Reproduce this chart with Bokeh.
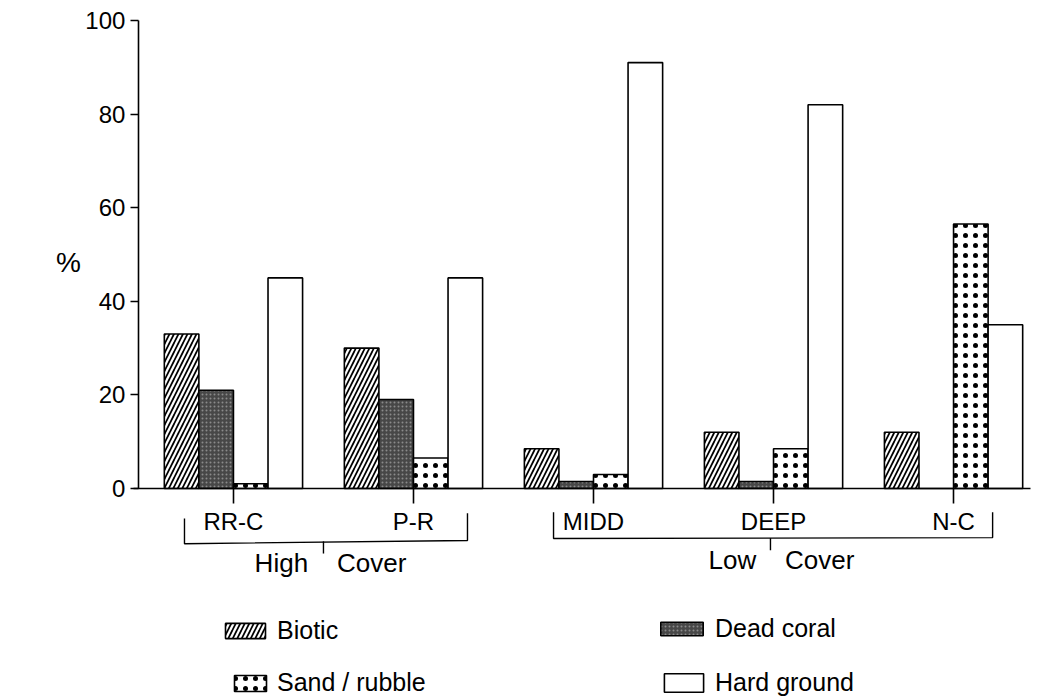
from bokeh.plotting import figure
from bokeh.models import Range1d, FixedTicker, Legend, LegendItem
from bokeh.embed import file_html
from bokeh.resources import INLINE
from bokeh.core.properties import value

# ---- data ----
sites = ["RR-C", "P-R", "MIDD", "DEEP", "N-C"]
biotic = [33, 30, 8.5, 12, 12]
dead_coral = [21, 19, 1.5, 1.5, 0]
sand_rubble = [1, 6.5, 3, 8.5, 56.5]
hard_ground = [45, 45, 91, 82, 35]
y_ticks = [0, 20, 40, 60, 80, 100]
groups = ["High\u00a0\u00a0\u00a0\u00a0Cover", "Low\u00a0\u00a0\u00a0\u00a0Cover"]
series_names = ["Biotic", "Dead coral", "Sand / rubble", "Hard ground"]

FONT = "Liberation Sans"

p = figure(width=1040, height=699, output_backend="svg", toolbar_location=None,
           x_range=Range1d(-1.294, 4.483), y_range=Range1d(-45.09, 104.27),
           min_border_left=0, min_border_right=0, min_border_top=0, min_border_bottom=0)
p.outline_line_color = None
p.grid.visible = False
p.background_fill_color = "white"
p.border_fill_color = "white"

idx = list(range(len(sites)))
w = 0.192
offs = [-1.5 * w, -0.5 * w, 0.5 * w, 1.5 * w]

r_bio = p.vbar(x=[i + offs[0] for i in idx], top=biotic, width=w, bottom=0,
               fill_color="white", line_color="black", line_width=1.6,
               hatch_pattern="/", hatch_color="black", hatch_scale=9, hatch_weight=1.7)
r_dead = p.vbar(x=[i + offs[1] for i in idx], top=dead_coral, width=w, bottom=0,
                fill_color="#474747", line_color="black", line_width=1.6,
                hatch_pattern=".", hatch_color="#8a8a8a", hatch_scale=4, hatch_weight=0.8)
r_sand = p.vbar(x=[i + offs[2] for i in idx], top=sand_rubble, width=w, bottom=0,
                fill_color="white", line_color="black", line_width=1.6,
                hatch_pattern=".", hatch_color="black", hatch_scale=10, hatch_weight=1)
r_hard = p.vbar(x=[i + offs[3] for i in idx], top=hard_ground, width=w, bottom=0,
                fill_color="white", line_color="black", line_width=1.6)

# y axis (placed at the left edge of the bars area)
ya = p.yaxis[0]
ya.fixed_location = -0.528
ya.ticker = FixedTicker(ticks=y_ticks)
ya.bounds = (0, 100)
ya.major_tick_out = 8
ya.major_tick_in = 0
ya.minor_tick_line_color = None
ya.axis_line_width = 1.6
ya.major_tick_line_width = 1.6
ya.major_label_text_font = FONT
ya.major_label_text_font_size = "24px"
ya.major_label_text_color = "black"
ya.major_label_standoff = 5

# x axis at y=0
xa = p.xaxis[0]
xa.fixed_location = 0
xa.bounds = (-0.556, 4.428)
xa.ticker = FixedTicker(ticks=idx)
xa.major_label_overrides = {i: s for i, s in zip(idx, sites)}
xa.major_tick_out = 15
xa.major_tick_in = 0
xa.minor_tick_line_color = None
xa.axis_line_width = 1.6
xa.major_tick_line_width = 1.6
xa.major_label_text_font = FONT
xa.major_label_text_font_size = "24px"
xa.major_label_text_color = "black"
xa.major_label_standoff = 5

# group brackets
p.multi_line(xs=[[-0.272, -0.272, 1.3, 1.3], [0.5, 0.5],
                 [1.778, 1.778, 4.217, 4.217], [2.983, 2.983]],
             ys=[[-6.4, -11.8, -11.1, -5.3], [-11.3, -13.9],
                 [-5.1, -10.7, -10.5, -5.1], [-10.6, -13.2]],
             line_color="black", line_width=1.4)
p.text(x=[0.539, 3.044], y=[-16.0, -15.2], text=groups,
       text_font=value(FONT), text_font_size="26px", text_color="black",
       text_align="center", text_baseline="middle")

# percent sign as the y-axis title
p.text(x=[-0.917], y=[48.3], text=["%"], text_font=value(FONT),
       text_font_size="28px", text_color="black",
       text_align="center", text_baseline="middle")


def add_leg(label, r, loc, gw, gh):
    lg = Legend(items=[LegendItem(label=label, renderers=[r])], location=loc,
                orientation="horizontal", padding=0, margin=0, spacing=0,
                border_line_color=None, background_fill_alpha=0,
                label_text_font=FONT, label_text_font_size="25px",
                label_text_color="black", label_standoff=7,
                glyph_width=gw, glyph_height=gh)
    p.add_layout(lg, "center")


add_leg(series_names[0], r_bio, (220, 54), 50, 19)
add_leg(series_names[2], r_sand, (230, 2), 40, 20)
add_leg(series_names[1], r_dead, (655, 56), 53, 17)
add_leg(series_names[3], r_hard, (659, 2), 49, 23)

open("out.html", "w").write(file_html(p, INLINE))
